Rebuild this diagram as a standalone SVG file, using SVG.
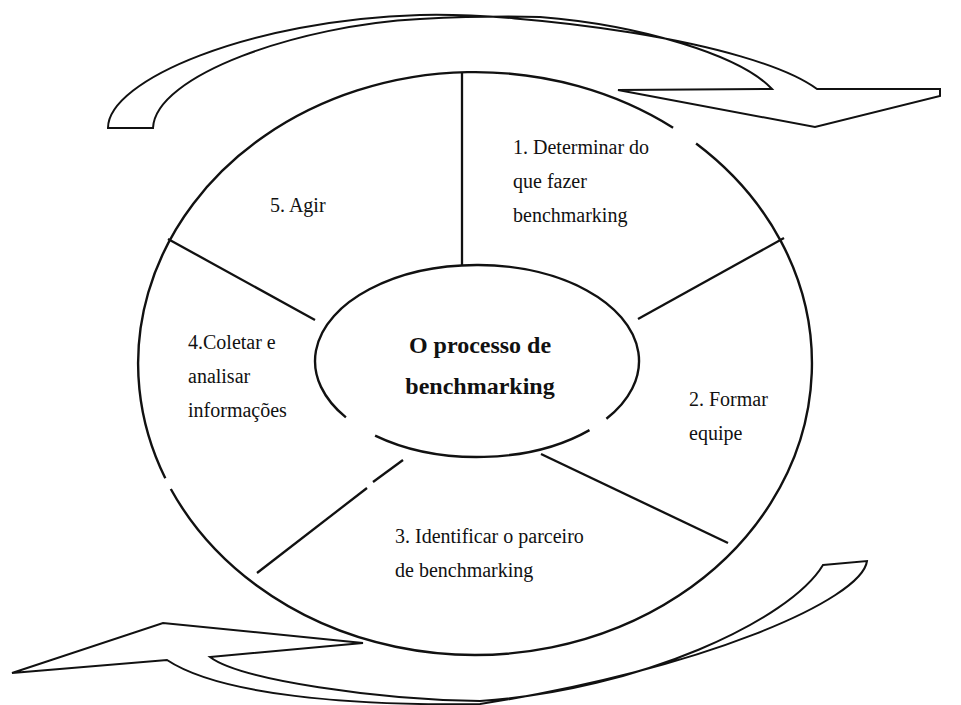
<svg xmlns="http://www.w3.org/2000/svg" width="961" height="705" viewBox="0 0 961 705">
  <style>
    .ring { fill: none; stroke: #111; stroke-width: 2.4; }
    .div { fill: none; stroke: #111; stroke-width: 2.3; stroke-linecap: butt; }
    .arrow { fill: #fff; stroke: #111; stroke-width: 2; stroke-linejoin: miter; }
    .lbl { font-family: "Liberation Serif", "Times New Roman", serif; font-size: 20px; fill: #111; }
    .title { font-family: "Liberation Serif", "Times New Roman", serif; font-size: 24px; font-weight: bold; fill: #111; text-anchor: middle; }
  </style>

  <!-- circular arrows around the cycle -->
  <g id="connectors">
    <path id="arrow-top" class="arrow"
      d="M 108,128 C 108,80 250,20 420,15 C 520,12 750,40 817,89 L 940,89 L 940,96 L 815,127 L 618,90 L 772,89 C 740,55 640,25 540,17 C 500,16 460,17 420,19 C 300,25 155,75 153,128 Z"/>
    <path id="arrow-bottom" class="arrow"
      d="M 823,565 L 867,561 C 862,600 700,670 480,704 C 350,706 220,695 167,660 L 12,673 L 163,623 L 363,643 L 210,657 C 240,680 380,700 480,701 C 640,690 790,620 823,565 Z"/>
  </g>

  <!-- outer ring and spokes -->
  <g id="outer-ring">
    <path class="ring" d="M 696.1,143.5 A 337 291.5 0 1 1 170.8,489"/>
    <path class="ring" d="M 165.3,478.3 A 337 291.5 0 0 1 673.1,127.7"/>
  </g>
  <g id="spokes">
    <line class="div" x1="462" y1="72" x2="462" y2="265"/>
    <line class="div" x1="638" y1="319" x2="784" y2="238"/>
    <line class="div" x1="541" y1="454" x2="728" y2="543"/>
    <line class="div" x1="403" y1="460" x2="373" y2="482"/>
    <line class="div" x1="367" y1="488" x2="257" y2="573"/>
    <line class="div" x1="168" y1="239" x2="315" y2="320"/>
  </g>

  <!-- central ellipse -->
  <g id="center">
    <path class="ring" d="M 589.5,430.1 A 162 96 0 0 1 375.1,435.6"/>
    <path class="ring" d="M 345.9,417.4 A 162 96 0 1 1 606.4,418.8"/>
    <text class="title" x="480" y="353">O processo de</text>
    <text class="title" x="480" y="394">benchmarking</text>
  </g>

  <!-- stages -->
  <g id="step1">
    <text class="lbl" x="513" y="154">1. Determinar do</text>
    <text class="lbl" x="513" y="188">que fazer</text>
    <text class="lbl" x="513" y="222">benchmarking</text>
  </g>
  <g id="step2">
    <text class="lbl" x="689" y="406">2. Formar</text>
    <text class="lbl" x="689" y="440">equipe</text>
  </g>
  <g id="step3">
    <text class="lbl" x="395" y="543">3. Identificar o parceiro</text>
    <text class="lbl" x="395" y="577">de benchmarking</text>
  </g>
  <g id="step4">
    <text class="lbl" x="188" y="349">4.Coletar e</text>
    <text class="lbl" x="188" y="383">analisar</text>
    <text class="lbl" x="188" y="417">informações</text>
  </g>
  <g id="step5">
    <text class="lbl" x="270" y="212">5. Agir</text>
  </g>
</svg>
